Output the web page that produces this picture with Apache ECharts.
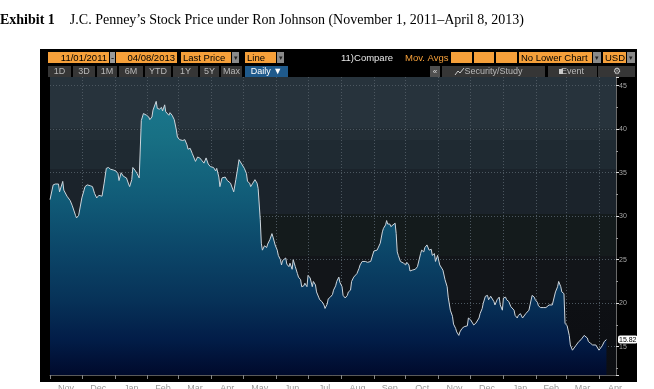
<!DOCTYPE html>
<html><head><meta charset="utf-8">
<script src="https://cdn.jsdelivr.net/npm/echarts@6/dist/echarts.min.js"></script>
<style>html,body{margin:0;padding:0;background:#fff}#c{width:654px;height:389px}</style>
</head><body><div id="c"></div>
<script>
const dates = ['2011-11-01','2011-11-04','2011-11-06','2011-11-07','2011-11-09','2011-11-10','2011-11-13','2011-11-14','2011-11-17','2011-11-20','2011-11-22','2011-11-25','2011-11-26','2011-11-28','2011-11-29',
'2011-12-01','2011-12-04','2011-12-06','2011-12-07','2011-12-09','2011-12-11','2011-12-12','2011-12-13','2011-12-15','2011-12-17','2011-12-18','2011-12-20','2011-12-22','2011-12-24','2011-12-26','2011-12-28','2011-12-29','2011-12-31',
'2012-01-02','2012-01-04','2012-01-05','2012-01-07','2012-01-09','2012-01-10','2012-01-12','2012-01-14','2012-01-15','2012-01-17','2012-01-18','2012-01-20','2012-01-22','2012-01-24','2012-01-25','2012-01-26','2012-01-27','2012-01-28','2012-01-31',
'2012-02-02','2012-02-03','2012-02-05','2012-02-06','2012-02-09','2012-02-10','2012-02-12','2012-02-14','2012-02-15','2012-02-17','2012-02-18','2012-02-21','2012-02-22','2012-02-24','2012-02-26','2012-02-28','2012-02-29',
'2012-03-02','2012-03-05','2012-03-07','2012-03-09','2012-03-10','2012-03-12','2012-03-14','2012-03-15','2012-03-17','2012-03-19','2012-03-21','2012-03-23','2012-03-25','2012-03-27','2012-03-29','2012-03-31',
'2012-04-01','2012-04-03','2012-04-05','2012-04-06','2012-04-08','2012-04-09','2012-04-11','2012-04-12','2012-04-14','2012-04-16','2012-04-17','2012-04-19','2012-04-20','2012-04-22','2012-04-24','2012-04-26','2012-04-27','2012-04-28','2012-04-30',
'2012-05-02','2012-05-04','2012-05-05','2012-05-07','2012-05-08','2012-05-10','2012-05-12','2012-05-14','2012-05-15','2012-05-17','2012-05-18','2012-05-19','2012-05-21','2012-05-23','2012-05-24','2012-05-26','2012-05-28','2012-05-29','2012-05-31',
'2012-06-02','2012-06-03','2012-06-05','2012-06-06','2012-06-07','2012-06-08','2012-06-10','2012-06-11','2012-06-13','2012-06-14','2012-06-16','2012-06-17','2012-06-19','2012-06-21','2012-06-22','2012-06-24','2012-06-25','2012-06-27','2012-06-28','2012-06-30',
'2012-07-01','2012-07-03','2012-07-05','2012-07-06','2012-07-08','2012-07-09','2012-07-11','2012-07-12','2012-07-14','2012-07-16','2012-07-17','2012-07-19','2012-07-20','2012-07-22','2012-07-24','2012-07-25','2012-07-27','2012-07-28','2012-07-30','2012-07-31',
'2012-08-02','2012-08-03','2012-08-05','2012-08-07','2012-08-08','2012-08-10','2012-08-11','2012-08-13','2012-08-14','2012-08-16','2012-08-18','2012-08-19','2012-08-21','2012-08-22','2012-08-24','2012-08-26','2012-08-27','2012-08-29','2012-08-30',
'2012-09-01','2012-09-02','2012-09-04','2012-09-05','2012-09-07','2012-09-09','2012-09-10','2012-09-12','2012-09-13','2012-09-14','2012-09-16','2012-09-17','2012-09-19','2012-09-21','2012-09-22','2012-09-23','2012-09-24','2012-09-26','2012-09-27','2012-09-29',
'2012-10-01','2012-10-02','2012-10-04','2012-10-05','2012-10-07','2012-10-08','2012-10-10','2012-10-12','2012-10-13','2012-10-15','2012-10-16','2012-10-18','2012-10-19','2012-10-21','2012-10-22','2012-10-23','2012-10-25','2012-10-26','2012-10-28','2012-10-29','2012-10-30','2012-10-31',
'2012-11-02','2012-11-03','2012-11-05','2012-11-06','2012-11-07','2012-11-09','2012-11-10','2012-11-12','2012-11-14','2012-11-15','2012-11-17','2012-11-18','2012-11-20','2012-11-21','2012-11-23','2012-11-25','2012-11-26','2012-11-28','2012-11-29',
'2012-12-01','2012-12-02','2012-12-04','2012-12-06','2012-12-07','2012-12-09','2012-12-10','2012-12-12','2012-12-13','2012-12-15','2012-12-17','2012-12-18','2012-12-20','2012-12-21','2012-12-23','2012-12-24','2012-12-26','2012-12-28','2012-12-29','2012-12-31',
'2013-01-01','2013-01-03','2013-01-04','2013-01-06','2013-01-08','2013-01-09','2013-01-11','2013-01-12','2013-01-14','2013-01-15','2013-01-17','2013-01-19','2013-01-20','2013-01-22','2013-01-23','2013-01-25','2013-01-26','2013-01-28','2013-01-30','2013-01-31',
'2013-02-02','2013-02-03','2013-02-05','2013-02-06','2013-02-08','2013-02-10','2013-02-11','2013-02-13','2013-02-14','2013-02-16','2013-02-17','2013-02-19','2013-02-21','2013-02-22','2013-02-24','2013-02-25','2013-02-27','2013-02-28',
'2013-03-02','2013-03-04','2013-03-05','2013-03-07','2013-03-08','2013-03-10','2013-03-11','2013-03-13','2013-03-15','2013-03-16','2013-03-18','2013-03-19','2013-03-21','2013-03-22','2013-03-24','2013-03-26','2013-03-27','2013-03-29','2013-03-30',
'2013-04-01','2013-04-02','2013-04-04','2013-04-06','2013-04-08'];
const prices = [31.9,33.6,33.7,33.5,33.7,32.8,34.0,33.0,32.3,31.8,31.2,30.1,29.8,30.1,30.3,
32.1,33.4,33.6,33.4,33.5,33.4,33.6,32.6,32.1,32.4,32.5,32.3,33.8,35.5,35.6,35.4,35.6,35.3,
35.2,34.9,34.1,35.0,34.6,34.5,34.4,33.7,33.4,34.2,35.6,35.3,34.9,34.4,34.3,41.0,41.4,41.8,41.6,
41.4,41.1,41.4,42.2,43.2,42.4,42.3,42.5,42.1,42.8,42.0,41.6,41.9,41.6,41.1,39.9,39.1,
38.8,38.7,38.8,38.2,37.7,37.8,37.2,37.0,36.3,36.8,36.7,36.4,36.1,36.7,36.0,35.7,
35.5,35.6,35.2,35.5,34.5,33.4,34.4,34.2,34.5,34.1,34.2,33.8,34.0,32.8,34.2,35.7,36.5,36.7,35.9,
35.5,34.9,34.0,33.8,33.4,33.8,34.2,33.8,33.2,29.6,26.9,26.1,26.6,26.4,26.8,27.3,28.0,27.6,26.7,
26.1,25.5,25.0,24.4,24.9,24.7,25.2,24.5,24.2,24.6,23.9,25.0,24.2,23.4,23.0,22.7,21.9,22.0,22.3,21.9,
23.2,22.9,21.9,22.5,22.1,21.3,20.7,20.4,20.2,19.8,19.4,19.9,20.5,20.7,21.0,21.5,22.0,22.5,23.0,22.4,
21.9,20.9,20.6,20.9,21.3,21.5,22.5,23.0,22.9,23.4,24.0,24.4,24.8,24.6,24.8,24.7,24.9,24.8,25.2,
26.0,26.2,26.1,26.0,26.9,28.2,28.6,29.0,29.5,29.1,29.1,28.8,29.0,29.2,28.0,25.9,25.5,24.8,24.7,24.6,
24.4,24.7,24.4,23.7,23.8,24.0,23.9,24.2,24.4,25.7,26.1,25.9,26.4,26.7,26.9,26.1,26.2,25.5,25.7,24.8,25.0,25.5,
24.4,24.2,23.8,23.6,22.7,21.9,20.7,19.2,18.5,17.6,17.1,16.7,16.3,16.7,17.1,17.3,17.3,17.4,18.3,
18.1,17.9,17.5,17.7,17.7,18.3,18.8,19.4,20.0,20.8,20.9,20.4,20.8,20.9,20.2,19.8,20.4,20.7,19.8,19.2,
20.6,20.7,20.4,20.2,19.6,19.4,19.2,18.6,18.3,18.6,18.8,18.3,18.4,18.8,18.6,19.2,19.4,20.9,20.7,20.4,
20.1,19.7,19.5,19.6,19.5,19.5,19.5,19.8,20.0,19.8,20.0,21.3,21.9,22.5,21.9,21.3,21.1,17.7,
17.4,16.3,15.2,14.6,14.8,15.1,15.3,15.6,15.8,15.7,16.3,16.3,16.0,15.6,15.4,15.2,15.1,15.2,15.0,
14.6,14.5,15.1,15.6,15.82];
const lastPrice = 15.82;
const monthStarts = ['2011-11-01','2011-12-01','2012-01-01','2012-02-01','2012-03-01','2012-04-01','2012-05-01','2012-06-01','2012-07-01','2012-08-01','2012-09-01','2012-10-01','2012-11-01','2012-12-01','2013-01-01','2013-02-01','2013-03-01','2013-04-01','2013-05-01'];
const monthNames = ['Jan','Feb','Mar','Apr','May','Jun','Jul','Aug','Sep','Oct','Nov','Dec'];
const titleBold = 'Exhibit 1';
const titleText = 'J.C. Penney’s Stock Price under Ron Johnson (November 1, 2011–April 8, 2013)';

const ts = s => { const p = s.split('-').map(Number); return new Date(p[0], p[1]-1, p[2]).getTime(); };
const seriesData = dates.map((d, i) => [ts(d), prices[i]]);
const tickVals = monthStarts.slice(0, -1).map(ts);
const midVals = monthStarts.slice(0, -1).map((m, i) => (ts(m) + ts(monthStarts[i+1])) / 2);

const O = '#f6a03a', DD = '#8a8a8a', BTN = '#363636';
const F = '"Liberation Sans", Arial, sans-serif';
const els = [];
els.push({type:'rect', z:-50, shape:{x:40,y:49,width:597,height:333}, style:{fill:'#000'}});
function box(x, y, w, h, fill, text, color, align, size) {
  if (fill) els.push({type:'rect', shape:{x:x, y:y, width:w, height:h}, style:{fill:fill}});
  if (text) els.push({type:'text', x: align==='left' ? x+2 : align==='right' ? x+w-2 : x+w/2, y: y+h/2+0.5,
    style:{text:text, fill:color, font:(size||9.5)+'px '+F, align:align||'center', verticalAlign:'middle'}});
}
// row 1
box(48,52,61,11,O,'11/01/2011','#000','right');
box(110,52,5,11,'#9a9a9a','-','#000');
box(116,52,61,11,O,'04/08/2013','#000','right');
box(181,52,50,11,O,'Last Price','#000','left');
box(232,52,7,11,DD,'▾','#222','center',7);
box(245,52,31,11,O,'Line','#000','left');
box(277,52,7,11,DD,'▾','#222','center',7);
box(339,52,50,11,null,'11)Compare','#e8e8e8','left');
box(403,52,46,11,null,'Mov. Avgs',O,'left');
box(451,52,21,11,O);
box(474,52,20,11,O);
box(496,52,21,11,O);
box(519,52,73,11,O,'No Lower Chart','#000','left');
box(593,52,8,11,DD,'▾','#222','center',7);
box(603,52,23,11,O,'USD','#000','left');
box(627,52,8,11,DD,'▾','#222','center',7);
// row 2
[['1D',48,23],['3D',73,22],['1M',97,20],['6M',119,24],['YTD',145,26],['1Y',173,25],['5Y',200,19],['Max',221,21]].forEach(b => box(b[1],66,b[2],11,BTN,b[0],'#b8b8b8','center',9));
box(245,66,43,11,'#1f5a8c','Daily ▼','#fff','center',9);
box(430,66,10,11,'#505050','«','#ddd','center',8);
box(442,66,103,11,BTN,'Security/Study','#b8b8b8','center',9);
els.push({type:'polyline', shape:{points:[[455,75],[458,71],[460,73],[464,68]]}, style:{stroke:'#ccc', lineWidth:1, fill:null}});
box(548,66,49,11,BTN,'Event','#b8b8b8','center',9);
els.push({type:'rect', shape:{x:559,y:69,width:4,height:5}, style:{fill:'#ccc'}});
box(598,66,37,11,BTN,'⚙','#ccc','center',9);

const bg = new echarts.graphic.LinearGradient(0,0,0,1,[
  {offset:0,color:'#27333c'},{offset:0.17,color:'#27333c'},{offset:0.17,color:'#232e36'},{offset:0.21,color:'#232e36'},
  {offset:0.21,color:'#1f2a32'},{offset:0.31,color:'#1f2a32'},{offset:0.31,color:'#1b232b'},{offset:0.46,color:'#1b232b'},
  {offset:0.46,color:'#141b1c'},{offset:0.60,color:'#141b1c'},{offset:0.60,color:'#121519'},{offset:0.75,color:'#121519'},
  {offset:0.75,color:'#0e1014'},{offset:1,color:'#0c0e12'}]);
const areaGrad = new echarts.graphic.LinearGradient(0,77,0,375,[
  {offset:0,color:'#1b7a92'},{offset:0.2,color:'#187084'},{offset:0.4,color:'#115c78'},{offset:0.6,color:'#0b4467'},
  {offset:0.75,color:'#073258'},{offset:0.88,color:'#021d48'},{offset:1,color:'#000a2c'}], true);

const chart = echarts.init(document.getElementById('c'), null, {renderer:'canvas', width:654, height:389});
chart.setOption({
  animation:false,
  backgroundColor:'#fff',
  title:{left:0, top:13, padding:0, text:'{b|'+titleBold+'}{r|'+titleText+'}',
    textStyle:{rich:{b:{fontFamily:'"Liberation Serif", serif', fontWeight:'bold', fontSize:14, color:'#000'},
      r:{fontFamily:'"Liberation Serif", serif', fontWeight:'normal', fontSize:14, color:'#000', padding:[0,0,0,15]}}}},
  graphic:{elements:els},
  grid:{left:50, right:38, top:77, bottom:14, show:true, borderWidth:0, backgroundColor:bg, outerBoundsMode:'none', containLabel:false},
  xAxis:{type:'value', min:ts('2011-11-01'), max:ts('2013-04-17'),
    axisLine:{show:true, lineStyle:{color:'#5a5a5a', width:1}},
    axisTick:{show:true, customValues:tickVals, length:4, lineStyle:{color:'#888'}},
    axisLabel:{show:true, customValues:midVals, formatter:v => monthNames[new Date(v).getMonth()], color:'#9a9a9a', fontSize:9, fontFamily:F, margin:9, hideOverlap:false},
    splitLine:{show:true, showMinLine:false, lineStyle:{color:'#4c5760', width:1, type:[1,2]}}},
  yAxis:{type:'value', position:'right', min:11.75, max:46, splitNumber:7,
    axisLine:{show:true, lineStyle:{color:'#6a6a6a'}},
    axisTick:{show:true, length:3, lineStyle:{color:'#dddddd'}},
    minorTick:{show:true, splitNumber:2, length:2, lineStyle:{color:'#999'}},
    axisLabel:{color:'#a8a8a8', fontSize:7, fontFamily:F, margin:3, showMinLabel:false, showMaxLabel:false},
    splitLine:{show:true, showMinLine:false, showMaxLine:false, lineStyle:{color:'#4c5760', width:1, type:[1,2]}}},
  series:[{type:'line', data:seriesData, showSymbol:false, symbol:'none', z:3,
    lineStyle:{color:'#cdd5dc', width:1}, areaStyle:{color:areaGrad, opacity:1},
    markLine:{silent:true, symbol:['none','none'], data:[{yAxis:lastPrice}], lineStyle:{color:'rgba(0,0,0,0)', width:1, type:'solid'},
      label:{show:true, position:'end', distance:2, formatter:lastPrice.toFixed(2), color:'#000', backgroundColor:'#ffffff', fontSize:7, fontFamily:F, padding:[1,1,0,1], borderRadius:2}}}]
});
</script></body></html>
